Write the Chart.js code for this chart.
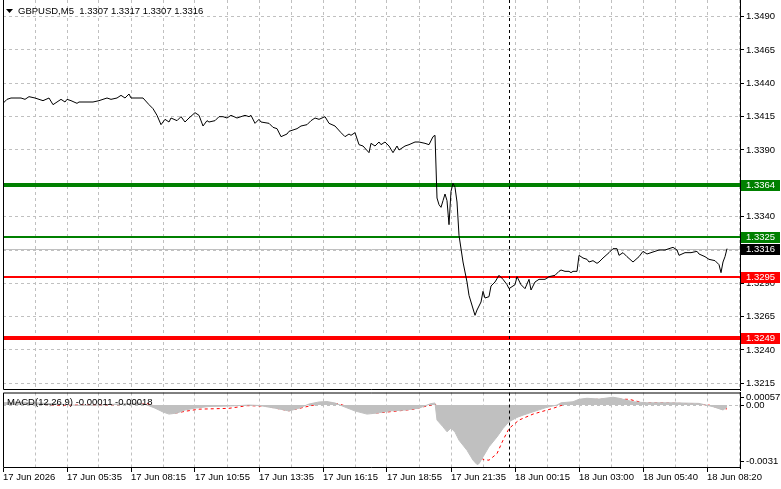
<!DOCTYPE html>
<html>
<head>
<meta charset="utf-8">
<script src="https://cdn.jsdelivr.net/npm/chart.js@4.4.1/dist/chart.umd.min.js"></script>
<style>
  html, body { margin: 0; padding: 0; background: #fff; }
  body { width: 781px; height: 489px; position: relative; overflow: hidden; }
  canvas { position: absolute; left: 0; }
  #price { top: 0; width: 781px; height: 391px; }
  #macd { top: 390px; width: 781px; height: 99px; }
</style>
</head>
<body>
<canvas id="price" width="781" height="391"></canvas>
<canvas id="macd" width="781" height="99"></canvas>
<script>
// chart texts
const symbolTitle = 'GBPUSD,M5  1.3307 1.3317 1.3307 1.3316';
const macdTitle = 'MACD(12,26,9) -0.00011 -0.00018';

// time axis: one unit = one M5 bar
const timeLabels = ['17 Jun 2026', '17 Jun 05:35', '17 Jun 08:15', '17 Jun 10:55', '17 Jun 13:35', '17 Jun 16:15',
  '17 Jun 18:55', '17 Jun 21:35', '18 Jun 00:15', '18 Jun 03:00', '18 Jun 05:40', '18 Jun 08:20'];
const labelBars = [0, 32, 64, 96, 128, 160, 192, 224, 256, 288, 320, 352];
const cursorBar = 253;

// price axis
const priceTicks = [1.3215, 1.3240, 1.3265, 1.3290, 1.3315, 1.3340, 1.3365, 1.3390, 1.3415, 1.3440, 1.3465, 1.3490];

// close prices (bar index / price)
const priceBars = [0, 2, 4, 7, 9, 11, 13, 16, 18, 20, 23, 25, 27, 29, 31, 32, 34, 37, 38, 42, 45, 48, 52, 54, 57,
  59, 61, 63, 64, 67, 70, 73, 75, 77, 79, 81, 83, 84, 87, 89, 91, 93, 96, 98, 100, 102, 103, 106, 108, 110,
  112, 114, 117, 119, 121, 123, 124, 126, 128, 129, 133, 135, 137, 139, 142, 143, 147, 149, 152, 154,
  156, 158, 161, 163, 166, 169, 171, 173, 174, 176, 178, 180, 183, 184, 186, 188, 189, 191, 193, 195,
  197, 198, 201, 203, 206, 208, 211, 213, 215, 216,
  217, 218, 219, 220, 221, 222, 223, 224, 225, 226, 227, 228, 230, 232, 233, 236, 237, 239, 240, 241,
  243, 244, 246, 248, 250, 252, 253, 256, 257, 259, 261, 263, 264, 266, 268, 271, 273,
  276, 278, 279, 281, 283, 284, 285, 287, 288, 290, 292, 293, 295, 297, 298, 300, 303, 305, 307, 308,
  310, 312, 315, 318, 320, 322, 324, 328, 331, 333, 335, 337, 338, 341, 344, 347, 348, 351, 353, 356,
  358, 359, 360, 361, 362];
const closePrices = [1.3425, 1.3428, 1.3429, 1.3429, 1.3429, 1.3428, 1.3430, 1.3429, 1.3428, 1.3427, 1.3429, 1.3424,
  1.3426, 1.3428, 1.3426, 1.3428, 1.3427, 1.3425, 1.3426, 1.3426, 1.3426, 1.3427, 1.3429, 1.3428, 1.3429,
  1.3431, 1.3429, 1.3432, 1.3429, 1.3429, 1.3429, 1.3424, 1.3421, 1.3416, 1.3409, 1.3413, 1.3411, 1.3414,
  1.3412, 1.3415, 1.3411, 1.3414, 1.3418, 1.3416, 1.3408, 1.3412, 1.3411, 1.3412, 1.3415, 1.3415,
  1.3414, 1.3416, 1.3414, 1.3415, 1.3416, 1.3415, 1.3416, 1.3410, 1.3413, 1.3411, 1.3410, 1.3407, 1.3406,
  1.3400, 1.3402, 1.3404, 1.3406, 1.3408, 1.3409, 1.3412, 1.3414, 1.3413, 1.3415, 1.3410, 1.3408,
  1.3403, 1.3400, 1.3402, 1.3401, 1.3403, 1.3394, 1.3393, 1.3388, 1.3395, 1.3393, 1.3396, 1.3394, 1.3396,
  1.3393, 1.3388, 1.3393, 1.3390, 1.3393, 1.3394, 1.3396, 1.3396, 1.3395, 1.3394, 1.3400, 1.3401,
  1.3354, 1.3349, 1.3347, 1.3352, 1.3357, 1.3352, 1.3334, 1.3359, 1.3365, 1.3362, 1.3351, 1.3326, 1.3306,
  1.3291, 1.3281, 1.3266, 1.3270, 1.3276, 1.3284, 1.3279, 1.3280, 1.3288, 1.3291, 1.3296, 1.3293,
  1.3289, 1.3286, 1.3289, 1.3295, 1.3289, 1.3286, 1.3293, 1.3285, 1.3291, 1.3293, 1.3293, 1.3295,
  1.3296, 1.3299, 1.3300, 1.3299, 1.3299, 1.3298, 1.3299, 1.3299, 1.3311, 1.3309, 1.3308, 1.3306, 1.3307,
  1.3305, 1.3306, 1.3309, 1.3313, 1.3316, 1.3316, 1.3311, 1.3313, 1.3310, 1.3306, 1.3310, 1.3314,
  1.3312, 1.3313, 1.3315, 1.3315, 1.3316, 1.3317, 1.3315, 1.3311, 1.3313, 1.3313, 1.3314, 1.3312, 1.3310,
  1.3308, 1.3307, 1.3304, 1.3298, 1.3306, 1.3310, 1.3316];

// horizontal levels
const resistanceLevels = [1.3364, 1.3325];
const supportLevels = [1.3295, 1.3249];
const lastPrice = 1.3316;

// MACD(12,26,9)
const histBars = [0, 8, 18, 28, 38, 48, 58, 68, 72, 76, 80, 83, 87, 91, 96, 103, 113, 123, 128, 136,
  143, 148, 153, 158, 162, 166, 171, 176, 182, 187, 193, 201, 208, 214, 216, 217, 220, 222, 224, 226,
  228, 232, 235, 237, 238, 240, 243, 247, 250, 253, 257, 260, 265, 272, 277, 279, 285, 288, 292, 298,
  305, 308, 315, 322, 335, 348, 355, 360, 362];
const histValues = [0.00011, 0.00015, 0.00010, 0.00005, -0.00002, 0, 0.00005, 0.00010, 0, -0.00015,
  -0.00034, -0.00044, -0.00039, -0.00024, -0.00015, -0.00007, -0.00005, 0, -0.00002, -0.00015,
  -0.00029, -0.00015, 0.00005, 0.00015, 0.00017, 0.00010, -0.00010, -0.00029, -0.00044, -0.00039,
  -0.00029, -0.00024, -0.00015, 0.00007, 0.00010, -0.00073, -0.00106, -0.00130, -0.00112, -0.00132,
  -0.00171, -0.00220, -0.00268, -0.00289, -0.00285, -0.00252, -0.00203, -0.00155, -0.00114, -0.00081,
  -0.00060, -0.00049, -0.00033, -0.00011, 0, 0.00011, 0.00016, 0.00028, 0.00033, 0.00029,
  0.00038, 0.00033, 0.00016, 0.00011, 0.00011, 0.00008, -0.00008, -0.00024, -0.00011];
const signalBars = [0, 14, 28, 44, 58, 72, 78, 85, 92, 98, 113, 122, 131, 143, 153, 162, 168, 178, 185, 188,
  205, 216, 222, 228, 233, 237, 240, 243, 247, 250, 253, 258, 265, 275, 282, 288, 297, 305, 313, 320,
  330, 347, 353, 360, 362];
const signalValues = [0.00008, 0.00005, 0, 0, 0.00002, 0.00007, -0.00010, -0.00041, -0.00029, -0.00020,
  -0.00016, -0.00003, -0.00005, -0.00028, -0.00005, 0.00013, 0.00005, -0.00024, -0.00039, -0.00038,
  -0.00021, 0.00005, -0.00049, -0.00106, -0.00171, -0.00228, -0.00265, -0.00268, -0.00236, -0.00171,
  -0.00114, -0.00073, -0.00044, -0.00016, 0.00008, 0.00016, 0.00028, 0.00028, 0.00028, 0.00011,
  0.00011, 0.00005, 0, -0.00021, -0.00018];
const macdTickValues = [-0.00273, 0, 0.00039];
const macdTickLabels = ['-0.0031', '0.00', '0.00057'];

const FONT = '"Liberation Sans", Arial, sans-serif';
Chart.defaults.font.family = FONT;
Chart.defaults.font.size = 9.5;
Chart.defaults.color = '#000';

const gridBars = [];
for (let b = 0; b <= 368; b += 16) gridBars.push(b);

const points = (xs, ys) => xs.map((x, k) => ({ x: x, y: ys[k] }));

function timeAxis(showLabels) {
  return {
    type: 'linear',
    min: 0,
    max: 368.5,
    afterBuildTicks: s => { s.ticks = gridBars.map(v => ({ value: v })); },
    afterFit: s => { s.height = showLabels ? 21 : 0; s.paddingLeft = 0; s.paddingRight = 0; },
    ticks: {
      display: showLabels,
      autoSkip: false,
      maxRotation: 0,
      align: 'start',
      padding: 0,
      callback: v => {
        const k = labelBars.indexOf(v);
        return k < 0 ? '' : timeLabels[k];
      }
    },
    grid: {
      color: '#c0c0c0',
      drawTicks: showLabels,
      tickLength: 4,
      tickColor: c => (c.tick && labelBars.includes(c.tick.value)) ? '#000' : 'rgba(0,0,0,0)'
    },
    border: { display: false, dash: [3, 3] }
  };
}

function valueAxis(min, max, tickValues, labelFor, gridColor) {
  return {
    position: 'right',
    min: min,
    max: max,
    afterBuildTicks: s => { s.ticks = tickValues.map(v => ({ value: v })); },
    afterFit: s => { s.width = 41; s.paddingTop = 0; s.paddingBottom = 0; },
    ticks: { autoSkip: false, padding: 2, callback: labelFor },
    grid: { color: gridColor, tickColor: '#000', tickLength: 4 },
    border: { display: true, color: '#000', width: 1, dash: [3, 3] }
  };
}

// left / bottom frame and the dashed cursor line
const framePlugin = {
  id: 'frame',
  afterDatasetsDraw(chart) {
    const { ctx, chartArea: a, scales } = chart;
    const x = Math.round(scales.x.getPixelForValue(cursorBar)) + 0.5;
    ctx.save();
    ctx.strokeStyle = '#000';
    ctx.lineWidth = 1;
    ctx.setLineDash([3, 3]);
    ctx.beginPath();
    ctx.moveTo(x, a.top);
    ctx.lineTo(x, a.bottom);
    ctx.stroke();
    ctx.setLineDash([]);
    ctx.beginPath();
    if (chart.canvas.id === 'macd') {
      ctx.moveTo(a.right, a.top + 0.5);
      ctx.lineTo(a.left + 0.5, a.top + 0.5);
    } else {
      ctx.moveTo(a.left + 0.5, a.top);
    }
    ctx.lineTo(a.left + 0.5, Math.round(a.bottom) - 0.5);
    ctx.lineTo(a.right, Math.round(a.bottom) - 0.5);
    ctx.stroke();
    ctx.restore();
  }
};

const levelStyles = {
  resistance: { color: '#008000', widths: [4, 2] },
  support: { color: '#ff0000', widths: [2, 4] }
};

function eachLevel(fn) {
  resistanceLevels.forEach((p, k) => fn(p, levelStyles.resistance.color, levelStyles.resistance.widths[k]));
  supportLevels.forEach((p, k) => fn(p, levelStyles.support.color, levelStyles.support.widths[k]));
}

const levelsPlugin = {
  id: 'levels',
  beforeDatasetsDraw(chart) {
    const { ctx, chartArea: a, scales: { y } } = chart;
    ctx.save();
    const yl = Math.round(y.getPixelForValue(lastPrice)) + 0.5;
    ctx.strokeStyle = '#c0c0c0';
    ctx.lineWidth = 1;
    ctx.beginPath();
    ctx.moveTo(a.left, yl);
    ctx.lineTo(a.right, yl);
    ctx.stroke();
    eachLevel((p, color, w) => {
      const yp = Math.round(y.getPixelForValue(p));
      ctx.fillStyle = color;
      ctx.fillRect(a.left, yp - w / 2, a.right - a.left, w);
    });
    ctx.restore();
  },
  afterDraw(chart) {
    const { ctx, chartArea: a, scales: { y } } = chart;
    ctx.save();
    ctx.font = '9.5px ' + FONT;
    ctx.textBaseline = 'middle';
    const box = (p, bg) => {
      const yp = Math.round(y.getPixelForValue(p));
      ctx.fillStyle = bg;
      ctx.fillRect(a.right + 1, yp - 5, 39, 11);
      ctx.fillStyle = '#fff';
      ctx.fillText(p.toFixed(4), a.right + 6, yp + 0.5);
    };
    box(lastPrice, '#000');
    eachLevel((p, color) => box(p, color));
    ctx.restore();
  }
};

function titlePlugin(text, tx, ty, arrow) {
  return {
    id: 'title',
    afterDraw(chart) {
      const ctx = chart.ctx;
      ctx.save();
      if (arrow) {
        ctx.fillStyle = '#000';
        ctx.beginPath();
        ctx.moveTo(6, 9);
        ctx.lineTo(13, 9);
        ctx.lineTo(9.5, 13);
        ctx.closePath();
        ctx.fill();
      }
      ctx.font = '9.5px ' + FONT;
      ctx.fillStyle = '#000';
      ctx.textBaseline = 'middle';
      ctx.fillText(text, tx, ty);
      ctx.restore();
    }
  };
}

const common = {
  responsive: false,
  animation: false,
  devicePixelRatio: 1,
  events: [],
  plugins: { legend: { display: false }, tooltip: { enabled: false } },
  elements: { point: { radius: 0 }, line: { tension: 0 } }
};

new Chart(document.getElementById('price'), {
  type: 'line',
  data: {
    datasets: [{
      data: points(priceBars, closePrices),
      borderColor: '#000',
      borderWidth: 1,
      fill: false
    }]
  },
  options: {
    ...common,
    layout: { padding: { left: 3, top: 0, right: 0, bottom: 1 } },
    scales: {
      x: timeAxis(false),
      y: valueAxis(1.32100, 1.35025, priceTicks, v => v.toFixed(4), '#c0c0c0')
    }
  },
  plugins: [levelsPlugin, framePlugin, titlePlugin(symbolTitle, 18, 11, true)]
});

new Chart(document.getElementById('macd'), {
  type: 'line',
  data: {
    datasets: [{
      data: points(histBars, histValues),
      borderColor: '#c0c0c0',
      backgroundColor: '#c0c0c0',
      borderWidth: 1,
      fill: 'origin'
    }, {
      data: points(signalBars, signalValues),
      borderColor: '#ff0000',
      borderWidth: 1,
      borderDash: [3, 3],
      fill: false
    }]
  },
  options: {
    ...common,
    layout: { padding: { left: 3, top: 2.5, right: 0, bottom: 0 } },
    scales: {
      x: timeAxis(true),
      y: valueAxis(-0.00306, 0.00061, macdTickValues, (v, i) => macdTickLabels[i],
        c => (c.tick && c.tick.value === 0) ? '#c0c0c0' : 'rgba(0,0,0,0)')
    }
  },
  plugins: [framePlugin, titlePlugin(macdTitle, 7, 12, false)]
});
</script>
</body>
</html>
